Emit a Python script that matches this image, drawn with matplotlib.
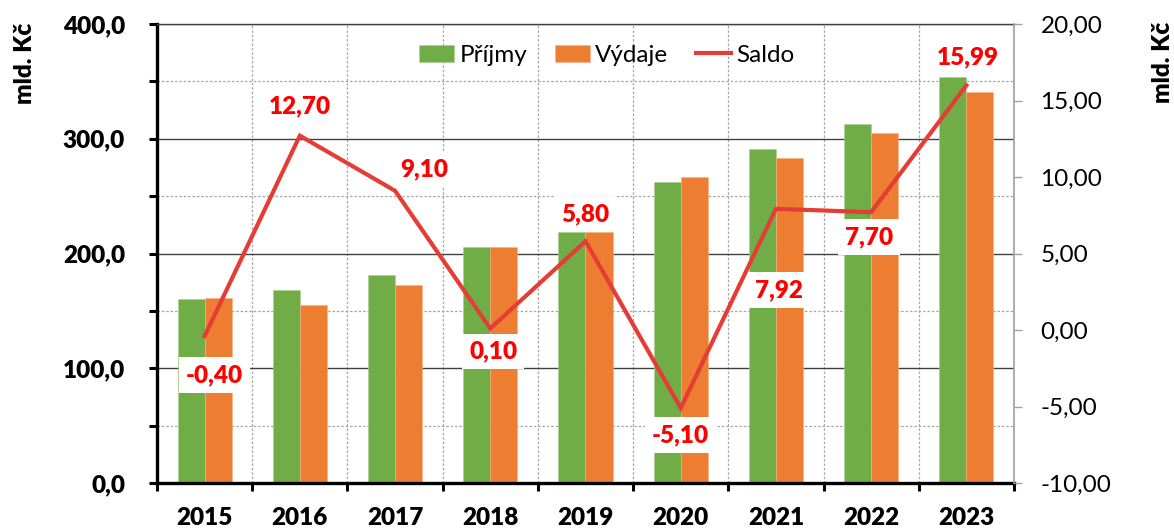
import matplotlib
matplotlib.use("Agg")
import matplotlib.pyplot as plt
from matplotlib.ticker import MultipleLocator, FixedLocator, FuncFormatter
import numpy as np

plt.rcParams['font.family'] = ['Lato', 'DejaVu Sans']

years = ['2015', '2016', '2017', '2018', '2019', '2020', '2021', '2022', '2023']
prijmy = [160.4, 167.9, 181.3, 205.3, 218.7, 261.9, 290.8, 312.9, 353.8]
vydaje = [161.0, 155.1, 172.2, 205.3, 218.7, 266.9, 283.0, 305.3, 340.5]
saldo = [-0.40, 12.70, 9.10, 0.10, 5.80, -5.10, 7.92, 7.70, 15.99]
saldo_labels = ['-0,40', '12,70', '9,10', '0,10', '5,80', '-5,10', '7,92', '7,70', '15,99']

# label offsets in pixels (style, not data)
label_offsets = [(10, -39), (0, 29), (29, 21), (3, -23), (0, 27), (0, -27), (3, -81), (-2, -25), (1, 28)]

GREEN = '#70AD47'
ORANGE = '#ED7D31'
LINE_RED = '#E63C36'
LABEL_RED = '#FF0000'
FS = 17.5

fig = plt.figure(figsize=(11.74, 5.30), dpi=100)
ax = fig.add_axes([157/1174, 1 - 483/530, (1014-157)/1174, (483-24)/530])
x = np.arange(len(years))
bw = 0.284
ax.bar(x - bw/2, prijmy, width=bw, color=GREEN, label='Příjmy', zorder=2, edgecolor='#A9D08E', linewidth=0.4)
ax.bar(x + bw/2, vydaje, width=bw, color=ORANGE, label='Výdaje', zorder=2, edgecolor='#F4B183', linewidth=0.4)

ax.set_xlim(-0.5, len(years) - 0.5)
ax.set_ylim(0, 400)
ax.yaxis.set_major_locator(MultipleLocator(100))
ax.yaxis.set_minor_locator(MultipleLocator(50))
ax.yaxis.set_major_formatter(FuncFormatter(lambda v, p: f'{v:.1f}'.replace('.', ',')))
ax.xaxis.set_major_locator(FixedLocator(np.arange(-0.5, len(years), 1.0)))
ax.xaxis.set_major_formatter(FuncFormatter(lambda v, p: ''))
ax.xaxis.set_minor_locator(FixedLocator(x))
ax.set_xticklabels(years, minor=True)

ax.set_axisbelow(True)
ax.grid(which='major', axis='y', color='#404040', linewidth=1.0, linestyle='-')
ax.grid(which='minor', axis='y', color='#A6A6A6', linewidth=0.9, linestyle=(0, (2, 1.5)))
ax.grid(which='major', axis='x', color='#A6A6A6', linewidth=0.9, linestyle=(0, (2, 1.5)))

for s in ['left', 'bottom']:
    ax.spines[s].set_linewidth(2.4)
    ax.spines[s].set_color('black')
ax.spines['right'].set_visible(False)
ax.spines['top'].set_color('#404040')
ax.spines['top'].set_linewidth(1.0)

ax.tick_params(axis='y', which='both', direction='out', length=6, width=2.2, color='black',
               labelsize=FS, pad=17)
ax.tick_params(axis='x', which='major', direction='out', length=6, width=2.2, color='black')
ax.tick_params(axis='x', which='minor', length=0, labelsize=FS, pad=17)
for t in ax.get_yticklabels():
    t.set_fontweight('heavy')
for t in ax.get_xticklabels(minor=True):
    t.set_fontweight('heavy')

ax2 = ax.twinx()
ax2.plot(x, saldo, color=LINE_RED, linewidth=3.0, label='Saldo', zorder=3, solid_joinstyle='miter')
ax2.set_ylim(-10, 20)
ax2.yaxis.set_major_locator(MultipleLocator(5))
ax2.yaxis.set_major_formatter(FuncFormatter(lambda v, p: f'{v:.2f}'.replace('.', ',')))
ax2.tick_params(axis='y', direction='out', length=6, width=1.0, color='#A0A0A0', labelsize=FS, pad=13)
for s in ['left', 'top', 'bottom']:
    ax2.spines[s].set_visible(False)
ax2.spines['right'].set_color('#A0A0A0')
ax2.spines['right'].set_linewidth(1.2)

for xi, yi, lab, (dx, dy) in zip(x, saldo, saldo_labels, label_offsets):
    ax2.annotate(lab, (xi, yi), xytext=(dx, dy), textcoords='offset pixels',
                 ha='center', va='center', color=LABEL_RED, fontsize=FS, fontweight='heavy',
                 bbox=dict(boxstyle='square,pad=0.28', fc='white', ec='none'), zorder=5)

h1, l1 = ax.get_legend_handles_labels()
h2, l2 = ax2.get_legend_handles_labels()
leg = ax2.legend(h1 + h2, l1 + l2, loc='center', bbox_to_anchor=(0.525, 0.932), ncol=3,
                 frameon=False, fontsize=FS, handlelength=1.45, handleheight=0.75,
                 handletextpad=0.2, columnspacing=1.15)

fig.text(25/1174, 1 - 63/530, 'mld. Kč', rotation=90, ha='center', va='center',
         fontsize=FS, fontweight='heavy')
fig.text(1163/1174, 1 - 62/530, 'mld. Kč', rotation=90, ha='center', va='center',
         fontsize=FS, fontweight='heavy')

fig.savefig('out.png', dpi=100)
